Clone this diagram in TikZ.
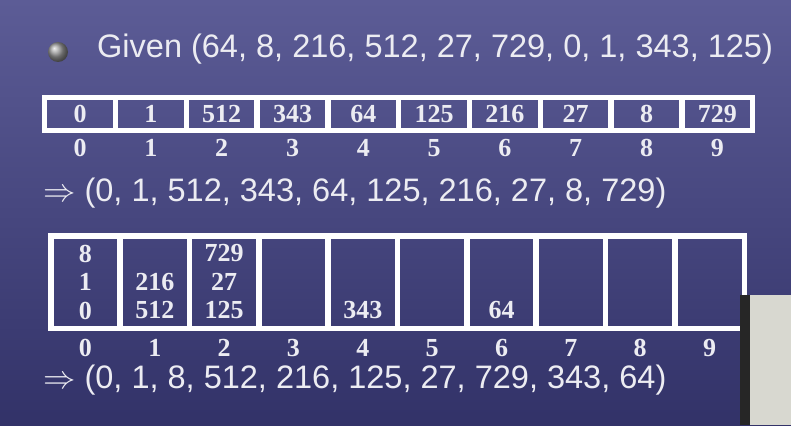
\documentclass[tikz,border=0pt]{standalone}
\usepackage{fontspec}
\setmainfont{Liberation Sans}
\newfontfamily\serifnum{Liberation Serif}
\usetikzlibrary{positioning}
\definecolor{slidetop}{RGB}{92,92,150}
\definecolor{slidebot}{RGB}{50,50,104}
\definecolor{chalk}{RGB}{236,236,242}
\definecolor{screengrey}{RGB}{216,216,208}
\newcommand{\bigtext}{\fontsize{32.5}{38}\selectfont}
\newcommand{\celltext}{\serifnum\bfseries\fontsize{26}{30}\selectfont}
\newcommand{\thenarrow}{\scalebox{1.3}{\fontsize{24.88}{30}\selectfont$\Rightarrow$}}

\begin{document}
\begin{tikzpicture}[x=1pt, y=-1pt,
  line/.style={anchor=base west, text=chalk, font=\bigtext, inner sep=0pt},
  slot/.style={draw=white, line width=5.5pt, inner sep=0pt, text=chalk, font=\celltext},
  short/.style={slot, minimum width=70.8pt, minimum height=33pt},
  tall/.style={slot, minimum width=69.35pt, minimum height=92.5pt},
  num/.style={text=chalk, font=\celltext, inner sep=0pt}
]
\useasboundingbox (0,0) rectangle (791,425);
\shade[top color=slidetop, bottom color=slidebot] (0,0) rectangle (791,425);

% the given list
\node[circle, ball color=gray!80, minimum size=20pt, inner sep=0pt] (dot) at (58,52) {};
\node[line] (given) at (97,58) {Given (64, 8, 216, 512, 27, 729, 0, 1, 343, 125)};

% first pass: ones digit
\foreach \v [count=\i from 0] in {0,1,512,343,64,125,216,27,8,729}
  \node[short] (a\i) at (80.1+70.8*\i,114) {\v};
\foreach \i in {0,...,9}
  \node[num, below=6pt of a\i] (ai\i) {\i};
\node[line] (pass1) at (43,201) {\thenarrow{} (0, 1, 512, 343, 64, 125, 216, 27, 8, 729)};

% second pass: tens digit
\foreach \i in {0,...,9}
  \node[tall] (b\i) at (85.425+69.35*\i,282) {};
\foreach \c/\r/\v in {0/1/8, 0/2/1, 0/3/0, 1/2/216, 1/3/512, 2/1/729, 2/2/27, 2/3/125, 4/3/343, 6/3/64}
  \node[num] (v\c\r) at ([yshift={(2-\r)*28.5pt}]b\c.center) {\v};
\foreach \i in {0,...,9}
  \node[num, below=8pt of b\i] (bi\i) {\i};
\node[line] (pass2) at (43,388) {\thenarrow{} (0, 1, 8, 512, 216, 125, 27, 729, 343, 64)};

% screen edge
\fill[screengrey] (750,295) rectangle (791,425);
\fill[black!85] (740,295) rectangle (750,425);
\end{tikzpicture}
\end{document}
